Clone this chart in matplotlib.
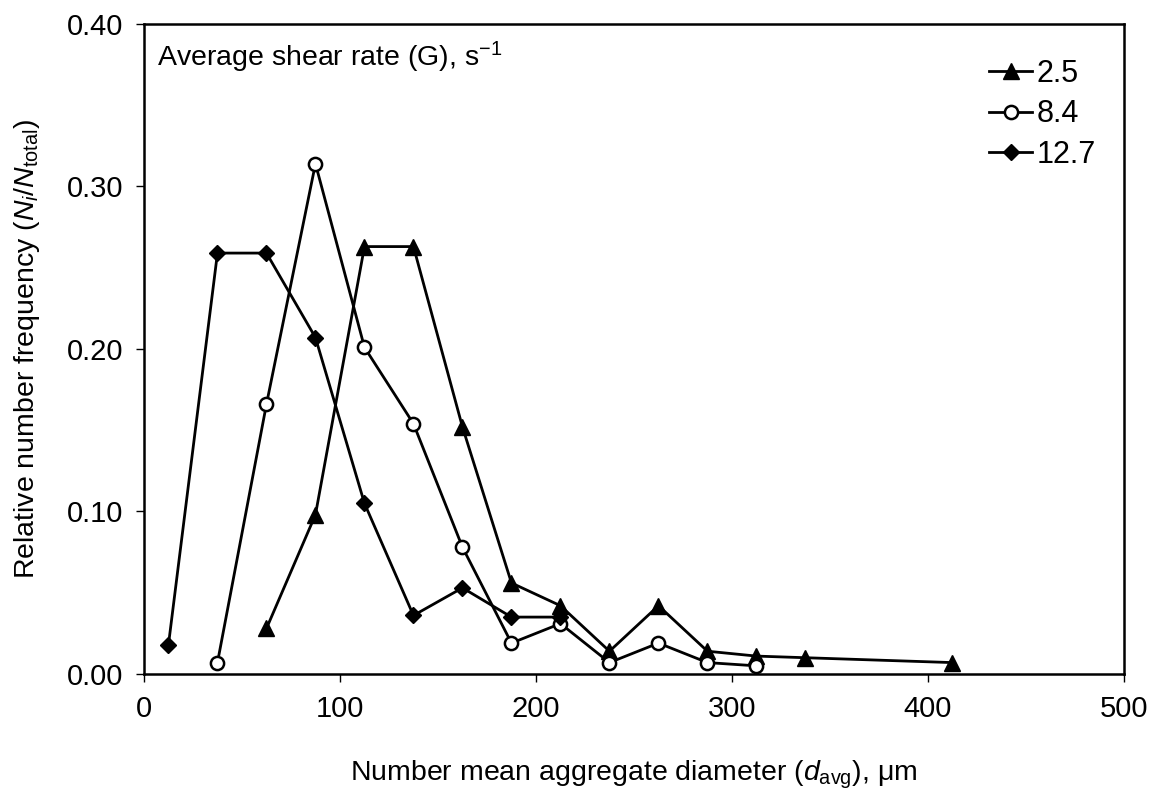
import numpy as np
import matplotlib
matplotlib.use("Agg")
import matplotlib.pyplot as plt
from matplotlib.ticker import FormatStrFormatter

plt.rcParams['font.family'] = ['Liberation Sans', 'DejaVu Sans']
plt.rcParams['mathtext.fontset'] = 'custom'
plt.rcParams['mathtext.rm'] = 'Liberation Sans'
plt.rcParams['mathtext.it'] = 'Liberation Sans:italic'

# data
x_25 = [62.5, 87.5, 112.5, 137.5, 162.5, 187.5, 212.5, 237.5, 262.5, 287.5, 312.5, 337.5, 412.5]
y_25 = [0.028, 0.098, 0.263, 0.263, 0.152, 0.056, 0.042, 0.014, 0.042, 0.014, 0.011, 0.010, 0.007]

x_84 = [37.5, 62.5, 87.5, 112.5, 137.5, 162.5, 187.5, 212.5, 237.5, 262.5, 287.5, 312.5]
y_84 = [0.007, 0.166, 0.314, 0.201, 0.154, 0.078, 0.019, 0.031, 0.007, 0.019, 0.007, 0.005]

x_127 = [12.5, 37.5, 62.5, 87.5, 112.5, 137.5, 162.5, 187.5, 212.5]
y_127 = [0.018, 0.259, 0.259, 0.207, 0.105, 0.036, 0.053, 0.035, 0.035]

fig = plt.figure(figsize=(11.61, 7.93), dpi=100)
ax = fig.add_axes([0.1240, 0.1501, 0.8441, 0.8197])

ax.plot(x_25, y_25, color='black', lw=2, marker='^', ms=11, mfc='black', mec='black', label='2.5')
ax.plot(x_84, y_84, color='black', lw=2, marker='o', ms=9.5, mfc='white', mec='black', mew=1.8, label='8.4')
ax.plot(x_127, y_127, color='black', lw=2, marker='D', ms=8.5, mfc='black', mec='black', label='12.7')

ax.set_xlim(0, 500)
ax.set_ylim(0, 0.40)
ax.set_xticks(np.arange(0, 501, 100))
ax.set_yticks(np.arange(0, 0.41, 0.10))
ax.yaxis.set_major_formatter(FormatStrFormatter('%.2f'))
ax.tick_params(direction='out', length=6, width=1.0, labelsize=21, pad=9)

for s in ax.spines.values():
    s.set_linewidth(1.8)

ax.set_xlabel('Number mean aggregate diameter ($d_{\\rm avg}$), \u03bcm', fontsize=20.5, labelpad=26)
ax.set_ylabel('Relative number frequency ($N_i$/$N_{\\rm total}$)', fontsize=20.5, labelpad=18)

ax.text(0.013, 0.975, 'Average shear rate (G), s$^{-1}$', transform=ax.transAxes,
        fontsize=20.5, va='top', ha='left')

leg = ax.legend(loc='upper right', frameon=False, fontsize=22, handlelength=1.4,
                handletextpad=0.15, labelspacing=0.35, borderaxespad=0.2,
                bbox_to_anchor=(0.99, 0.975))

fig.savefig('out.png', dpi=100)
